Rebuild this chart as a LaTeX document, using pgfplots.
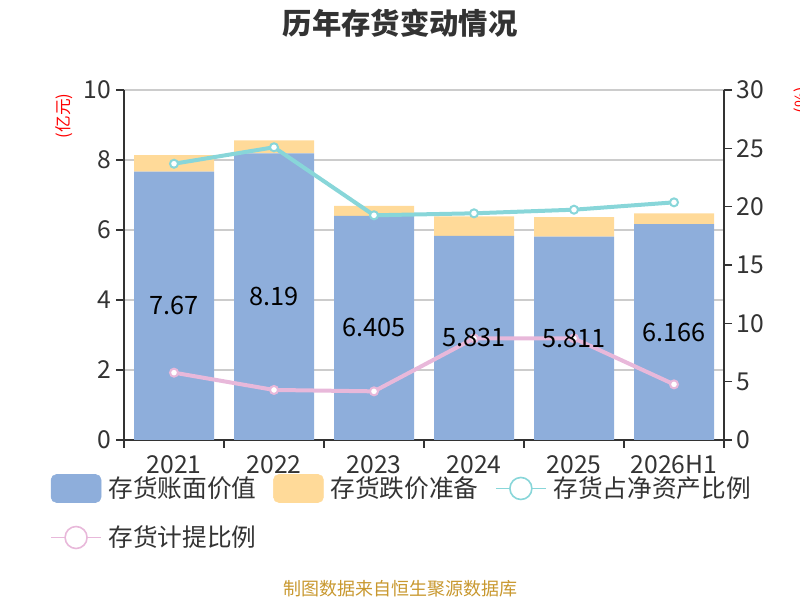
\documentclass[border=0pt]{standalone}
\usepackage{pgfplots}
\pgfplotsset{compat=1.18}
\usepackage{pgfplotstable}
\usepackage{fontspec}
\setmainfont{Noto Sans CJK SC}
\definecolor{barblue}{RGB}{142,174,219}
\definecolor{barorange}{RGB}{255,218,153}
\definecolor{cyanline}{RGB}{136,214,217}
\definecolor{pinkline}{RGB}{232,184,218}
\definecolor{gridgray}{RGB}{204,204,204}
\definecolor{axiscol}{RGB}{51,51,51}
\definecolor{footcol}{RGB}{200,152,47}
\pgfplotstableread{
x book prov net provr lab
0 7.67 0.47 23.68 5.77 7.67
1 8.19 0.37 25.09 4.29 8.19
2 6.405 0.285 19.26 4.17 6.405
3 5.831 0.56 19.43 8.71 5.831
4 5.811 0.56 19.74 8.71 5.811
5 6.166 0.31 20.37 4.77 6.166
}\data
\newcommand{\bigf}{\fontsize{18.5}{21}\selectfont}
\begin{document}
\begin{tikzpicture}
\useasboundingbox (0,0) rectangle (600pt,450pt);
\node[font=\fontsize{22}{26}\selectfont\bfseries, text=axiscol] at (300pt,432.75pt) {历年存货变动情况};
\node[font=\fontsize{13.5}{16}\selectfont, text=footcol] at (300pt,8.25pt) {制图数据来自恒生聚源数据库};
% left axis with bars
\begin{axis}[at={(93pt,120pt)}, anchor=south west, scale only axis,
  width=450pt, height=262.5pt,
  xmin=-0.5, xmax=5.5, ymin=0, ymax=10,
  ytick={0,2,...,10}, ymajorgrids, grid style={gridgray, line width=0.9pt},
  axis x line*=bottom, axis y line*=left,
  axis line style={axiscol, line width=1.1pt, -},
  xtick={-0.5,0.5,...,5.5}, xticklabels={},
  tick align=outside, major tick length=6pt,
  tick style={axiscol, line width=1.1pt},
  ybar stacked, bar width=0.8,
  yticklabel style={font=\bigf, text=axiscol},
  /pgf/number format/assume math mode=true,
  ylabel={(亿元)},
  ylabel style={at={(axis description cs:-0.1,0.926)}, anchor=center, font=\fontsize{12.5}{14}\selectfont, text=red}]
\addplot[fill=barblue, draw=none] table[x=x,y=book]{\data};
\addplot[fill=barorange, draw=none] table[x=x,y=prov]{\data};
\end{axis}
% right axis with lines
\begin{axis}[at={(93pt,120pt)}, anchor=south west, scale only axis,
  width=450pt, height=262.5pt,
  xmin=-0.5, xmax=5.5, ymin=0, ymax=30,
  ytick={0,5,...,30},
  axis y line*=right, axis x line=none,
  axis line style={axiscol, line width=1.1pt, -},
  tick align=outside, major tick length=6pt,
  tick style={axiscol, line width=1.1pt},
  yticklabel style={font=\bigf, text=axiscol},
  /pgf/number format/assume math mode=true,
  ylabel={(\%)},
  ylabel style={at={(axis description cs:1.13,0.971)}, anchor=center, font=\fontsize{12.5}{14}\selectfont, text=red}]
\addplot[cyanline, line width=3pt, mark=*, mark size=3pt, mark options={fill=white, draw=cyanline, line width=1.5pt}] table[x=x,y=net]{\data};
\addplot[pinkline, line width=3pt, mark=*, mark size=3pt, mark options={fill=white, draw=pinkline, line width=1.5pt}] table[x=x,y=provr]{\data};
\end{axis}
% labels and legend
\begin{axis}[at={(93pt,120pt)}, anchor=south west, scale only axis,
  width=450pt, height=262.5pt,
  xmin=-0.5, xmax=5.5, ymin=0, ymax=10,
  axis line style={draw=none},
  xtick={0,...,5}, xticklabels={2021,2022,2023,2024,2025,2026H1},
  xtick style={draw=none}, ytick=\empty,
  xticklabel style={font=\bigf, text=axiscol, yshift=-8pt},
  legend columns=3,
  legend style={at={(-0.1233,-0.097)}, anchor=north west, draw=none, fill=none,
    inner sep=0pt, font=\bigf, text=axiscol, row sep=15.5pt,
    /tikz/every odd column/.append style={column sep=3pt},
    /tikz/every even column/.append style={column sep=10.5pt}},
  legend cell align=left]
\addlegendimage{legend image code/.code={\fill[barblue, rounded corners=4pt] (0pt,-10.5pt) rectangle (37.5pt,10.5pt);}}
\addlegendentry{存货账面价值}
\addlegendimage{legend image code/.code={\fill[barorange, rounded corners=4pt] (0pt,-10.5pt) rectangle (37.5pt,10.5pt);}}
\addlegendentry{存货跌价准备}
\addlegendimage{legend image code/.code={\draw[cyanline, line width=1.2pt] (0pt,0pt) -- (37.5pt,0pt); \draw[cyanline, line width=1.2pt, fill=white] (18.75pt,0pt) circle (8.25pt);}}
\addlegendentry{存货占净资产比例}
\addlegendimage{legend image code/.code={\draw[pinkline, line width=1.2pt] (0pt,0pt) -- (37.5pt,0pt); \draw[pinkline, line width=1.2pt, fill=white] (18.75pt,0pt) circle (8.25pt);}}
\addlegendentry{存货计提比例}
\addplot[draw=none, mark=none, forget plot, nodes near coords, point meta=explicit symbolic,
  nodes near coords style={anchor=center, font=\fontsize{19}{22}\selectfont, text=black}]
  table[x=x, y expr=\thisrow{book}/2, meta=lab]{\data};
\end{axis}
\end{tikzpicture}
\end{document}
